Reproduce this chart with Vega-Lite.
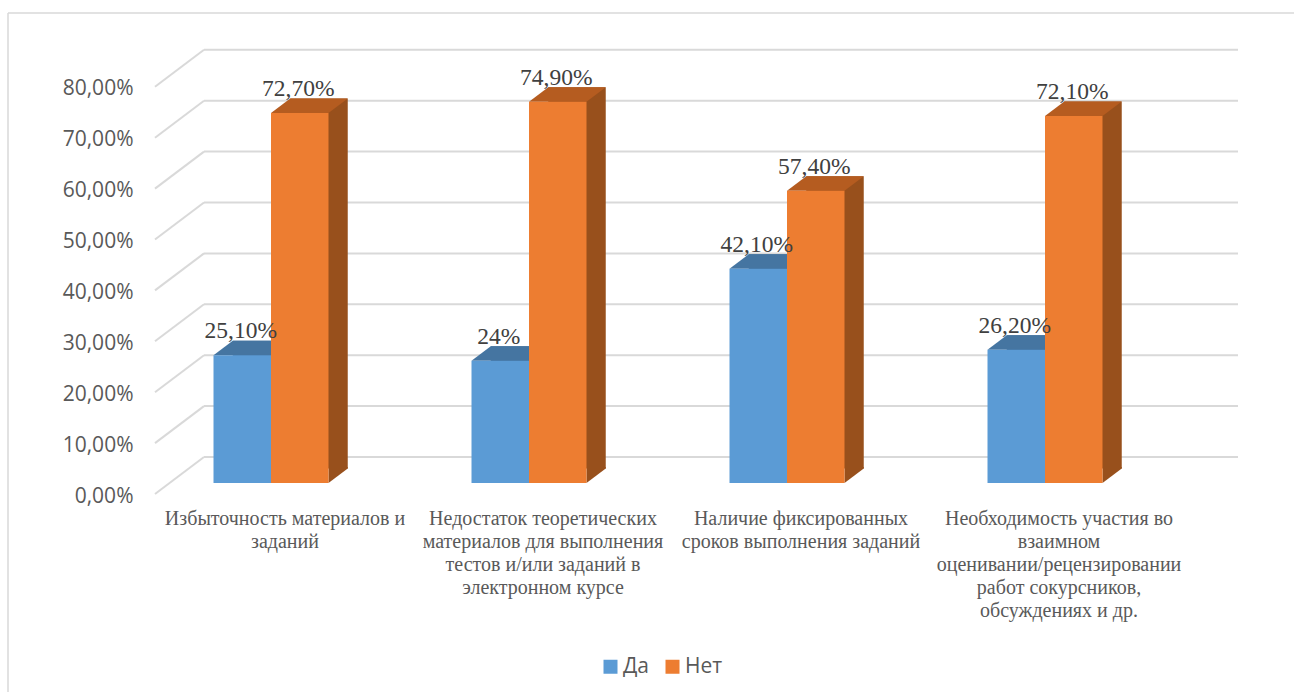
{
  "$schema": "https://vega.github.io/schema/vega-lite/v6.json",
  "width": 1286,
  "height": 679,
  "padding": {"left": 8, "top": 13, "right": 0, "bottom": 0},
  "autosize": {"type": "none"},
  "background": "#ffffff",
  "config": {"view": {"stroke": null}},
  "datasets": {
    "grid": [{"pct": 0}, {"pct": 10}, {"pct": 20}, {"pct": 30}, {"pct": 40}, {"pct": 50}, {"pct": 60}, {"pct": 70}, {"pct": 80}],
    "bars": [
      {"category": "Избыточность материалов и\nзаданий", "series": "Да", "value": 25.1, "label": "25,10%"},
      {"category": "Избыточность материалов и\nзаданий", "series": "Нет", "value": 72.7, "label": "72,70%"},
      {"category": "Недостаток теоретических\nматериалов для выполнения\nтестов и/или заданий в\nэлектронном курсе", "series": "Да", "value": 24, "label": "24%"},
      {"category": "Недостаток теоретических\nматериалов для выполнения\nтестов и/или заданий в\nэлектронном курсе", "series": "Нет", "value": 74.9, "label": "74,90%"},
      {"category": "Наличие фиксированных\nсроков выполнения заданий", "series": "Да", "value": 42.1, "label": "42,10%"},
      {"category": "Наличие фиксированных\nсроков выполнения заданий", "series": "Нет", "value": 57.4, "label": "57,40%"},
      {"category": "Необходимость участия во\nвзаимном\nоценивании/рецензировании\nработ сокурсников,\nобсуждениях и др.", "series": "Да", "value": 26.2, "label": "26,20%"},
      {"category": "Необходимость участия во\nвзаимном\nоценивании/рецензировании\nработ сокурсников,\nобсуждениях и др.", "series": "Нет", "value": 72.1, "label": "72,10%"}
    ]
  },
  "layer": [
    {
      "data": {"name": "grid"},
      "layer": [
        {
          "data": {"values": [{"edge": "left"}]},
          "mark": {"type": "rule", "stroke": "#d9d9d9", "strokeWidth": 1.5},
          "encoding": {"x": {"value": 0}}
        },
        {
          "data": {"values": [{"edge": "top"}]},
          "mark": {"type": "rule", "stroke": "#d9d9d9", "strokeWidth": 1.5},
          "encoding": {"y": {"value": 0}}
        },
        {
          "mark": {"type": "rule", "stroke": "#d9d9d9", "strokeWidth": 2, "yOffset": -26},
          "encoding": {
            "x": {"datum": 0, "type": "quantitative", "scale": {"domain": [0, 1], "range": [196, 1230]}, "axis": null},
            "x2": {"datum": 1},
            "y": {
              "field": "pct",
              "type": "quantitative",
              "scale": {"domain": [0, 80], "range": [470, 62.8], "nice": false, "zero": false},
              "axis": {
                "title": null,
                "values": [0, 10, 20, 30, 40, 50, 60, 70, 80],
                "offset": -125,
                "domain": false,
                "ticks": false,
                "grid": false,
                "labelPadding": 0,
                "labelOffset": 13,
                "labelFont": "Open Sans",
                "labelFontSize": 21,
                "labelColor": "#595959",
                "labelBound": false,
                "labelFlush": false,
                "labelOverlap": false,
                "labelExpr": "replace(format(datum.value, '.2f'), '.', ',') + '%'"
              }
            }
          }
        },
        {
          "mark": {"type": "point", "shape": "M-49,37L0,0", "size": 4, "filled": false, "stroke": "#d9d9d9", "strokeWidth": 2, "opacity": 1, "yOffset": -26},
          "encoding": {
            "x": {"datum": 0, "type": "quantitative", "scale": {"domain": [0, 1], "range": [196, 1230]}, "axis": null},
            "y": {"field": "pct", "type": "quantitative"}
          }
        }
      ]
    },
    {
      "description": "Right side of each column: the column pushed back and to the right along the depth axis",
      "data": {"name": "bars"},
      "mark": {"type": "bar"},
      "encoding": {
        "x": {
          "field": "category",
          "type": "nominal",
          "sort": null,
          "scale": {"type": "band", "range": [153.25, 1185.25], "paddingInner": 0.5543, "paddingOuter": 0.27715},
          "axis": null
        },
        "xOffset": {
          "field": "series",
          "type": "nominal",
          "scale": {"type": "band", "domain": ["Да", "Нет"], "paddingInner": 0, "paddingOuter": 0}
        },
        "y": {
          "field": "value",
          "type": "quantitative",
          "stack": null,
          "scale": {"domain": [0, 80], "range": [455.5, 48.3], "nice": false, "zero": false},
          "axis": null
        },
        "fill": {"condition": {"test": "datum.series === 'Да'", "value": "#3f6d97"}, "value": "#98501c"}
      }
    },
    {
      "data": {"name": "bars"},
      "encoding": {
        "x": {
          "field": "category",
          "type": "nominal",
          "sort": null,
          "scale": {"type": "band", "range": [134, 1166], "paddingInner": 0.5543, "paddingOuter": 0.27715},
          "axis": {
            "title": null,
            "orient": "bottom",
            "offset": -184,
            "domain": false,
            "ticks": false,
            "grid": false,
            "labelPadding": 0,
            "labelAngle": 0,
            "labelOffset": 14,
            "labelFont": "Liberation Serif",
            "labelFontSize": 20,
            "labelLineHeight": 23,
            "labelColor": "#595959",
            "labelLimit": 0,
            "labelBound": false,
            "labelFlush": false,
            "labelOverlap": false,
            "labelBaseline": "top",
            "labelExpr": "split(datum.label, '\\n')"
          }
        },
        "xOffset": {
          "field": "series",
          "type": "nominal",
          "scale": {"type": "band", "domain": ["Да", "Нет"], "paddingInner": 0, "paddingOuter": 0}
        },
        "y": {
          "field": "value",
          "type": "quantitative",
          "stack": null,
          "scale": {"domain": [0, 80], "range": [470, 62.8], "nice": false, "zero": false},
          "axis": null
        }
      },
      "layer": [
        {
          "description": "Top face of each column",
          "mark": {"type": "point", "shape": "M-28.75,0L28.75,0L48,-14.5L-9.5,-14.5Z", "size": 4, "filled": true, "opacity": 1, "strokeWidth": 0},
          "encoding": {
            "fill": {"condition": {"test": "datum.series === 'Да'", "value": "#4575a1"}, "value": "#b55c20"}
          }
        },
        {
          "description": "Sloped foot of each side face",
          "transform": [{"calculate": "0", "as": "floor"}],
          "mark": {"type": "point", "shape": "M28.75,0L48,-14.5L48,-16L28.75,-16Z", "size": 4, "filled": true, "opacity": 1, "strokeWidth": 0},
          "encoding": {
            "y": {"field": "floor", "type": "quantitative"},
            "fill": {"condition": {"test": "datum.series === 'Да'", "value": "#3f6d97"}, "value": "#98501c"}
          }
        },
        {
          "mark": {"type": "bar"},
          "encoding": {
            "color": {
              "field": "series",
              "type": "nominal",
              "scale": {"domain": ["Да", "Нет"], "range": ["#5b9bd5", "#ed7d31"]},
              "legend": {
                "title": null,
                "orient": "none",
                "direction": "horizontal",
                "legendX": 592,
                "legendY": 643,
                "padding": 0,
                "symbolType": "square",
                "symbolSize": 196,
                "symbolStrokeWidth": 0,
                "labelFont": "Open Sans",
                "labelFontSize": 21,
                "labelColor": "#595959",
                "labelOffset": 2,
                "columnPadding": 12
              }
            }
          }
        },
        {
          "mark": {"type": "text", "font": "Liberation Serif", "fontSize": 23.5, "color": "#404040", "baseline": "middle", "yOffset": -24, "dx": -1.5},
          "encoding": {"text": {"field": "label", "type": "nominal"}}
        }
      ]
    }
  ],
  "resolve": {"scale": {"x": "independent", "y": "independent"}, "axis": {"x": "independent", "y": "independent"}}
}
